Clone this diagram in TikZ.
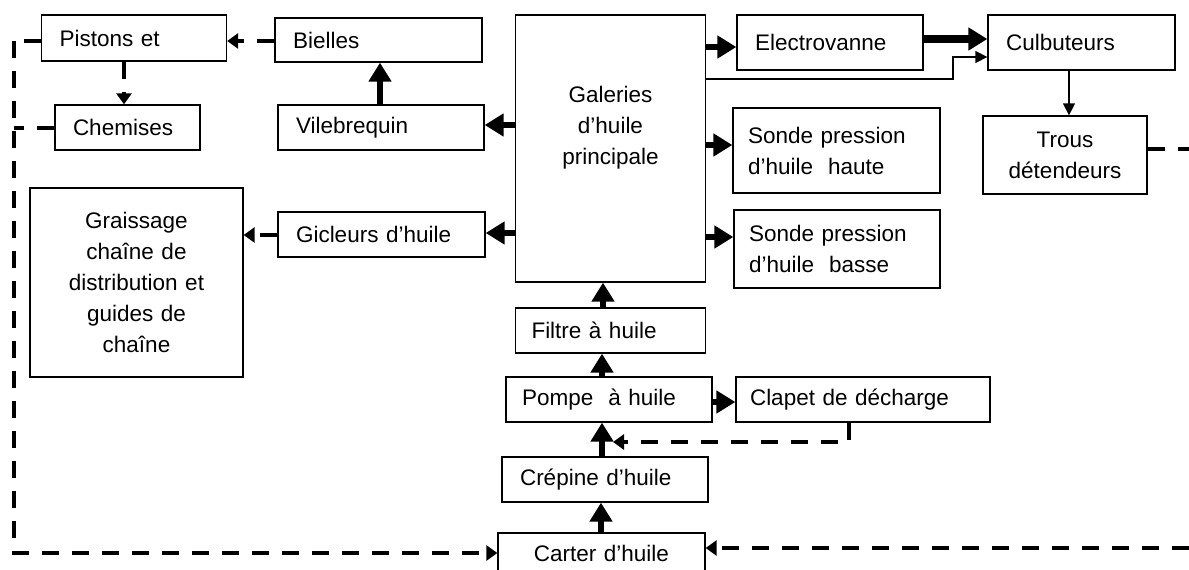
\documentclass[tikz,border=0pt]{standalone}
\usepackage{fontspec}
\setmainfont{Liberation Sans}
\usetikzlibrary{arrows.meta}
\begin{document}
\begin{tikzpicture}[x=1pt,y=-1pt,
  box/.style={draw, line width=1.3pt, inner xsep=18pt, inner ysep=0pt, align=left,
    font=\fontsize{22.5}{31}\selectfont},
  cbox/.style={box, align=center},
  thickarr/.style={line width=6.5pt, -{Triangle[length=19pt,width=22pt]}},
  thinarr/.style={line width=1.3pt, -{Triangle[length=12pt,width=12pt]}},
  dasharr/.style={line width=4.5pt, dash pattern=on 17pt off 13pt, -{Triangle[length=11pt,width=15pt]}},
  dashline/.style={line width=4.5pt, dash pattern=on 17pt off 13pt}]
\useasboundingbox (0,0) rectangle (1189,570);
\fill[white] (0,0) rectangle (1189,570);

\node[box, text width=149pt, minimum height=46pt] (pist) at (134,38) {Pistons et};
\node[box, text width=171pt, minimum height=44pt] (biel) at (378.5,40) {Bielles};
\node[box, text width=109pt, minimum height=45pt] (chem) at (127.5,127.5) {Chemises};
\node[box, text width=170pt, minimum height=45pt] (vile) at (381,127.5) {Vilebrequin};
\node[box, text width=154pt, minimum height=267pt] (gal) at (610.5,148.5) {};
\node[align=center, font=\fontsize{22.5}{31}\selectfont] (galt) at (610.5,128) {Galeries\\d’huile\\principale};
\node[box, text width=150pt, minimum height=55pt] (elec) at (830,42.5) {Electrovanne};
\node[box, text width=151pt, minimum height=55pt] (culb) at (1081.5,42.5) {Culbuteurs};
\node[box, inner xsep=15pt, text width=177pt, minimum height=85pt] (sh) at (836.5,150.5) {Sonde pression\\d’huile\ \ haute};
\node[cbox, text width=128pt, minimum height=78pt] (trous) at (1065,155) {Trous\\détendeurs};
\node[box, inner xsep=15pt, text width=176pt, minimum height=78pt] (sb) at (837,249) {Sonde pression\\d’huile\ \ basse};
\node[cbox, text width=177pt, minimum height=189pt] (grais) at (136.5,282.5) {Graissage\\chaîne de\\distribution et\\guides de\\chaîne\\[8pt]};
\node[box, text width=171pt, minimum height=45pt] (gicl) at (381.5,234.5) {Gicleurs d’huile};
\node[box, inner xsep=16pt, text width=158pt, minimum height=45pt] (filt) at (610.5,330.5) {Filtre à huile};
\node[box, inner xsep=16pt, text width=174pt, minimum height=45pt] (pomp) at (609,399.5) {Pompe\ \ à huile};
\node[box, inner xsep=14pt, text width=226pt, minimum height=45pt] (clap) at (863,399.5) {Clapet de décharge};
\node[box, text width=170pt, minimum height=45pt] (crep) at (605,479.5) {Crépine d’huile};
\node[cbox, text width=171pt, minimum height=40pt] (cart) at (601.5,553) {Carter d’huile};

% thick arrows
\draw[thickarr] (gal.east |- 0,47) -- (elec.west |- 0,47);
\draw[thickarr, line width=8pt] (elec.east |- 0,39) -- (culb.west |- 0,39);
\draw[thickarr] (gal.east |- 0,145) -- (sh.west |- 0,145);
\draw[thickarr] (gal.east |- 0,237) -- (sb.west |- 0,237);
\draw[thickarr] (gal.west |- 0,125) -- (vile.east |- 0,125);
\draw[thickarr] (gal.west |- 0,233) -- (gicl.east |- 0,233);
\draw[thickarr] (vile.north -| 380,0) -- (biel.south -| 380,0);
\draw[thickarr] (filt.north -| 603,0) -- (gal.south -| 603,0);
\draw[thickarr] (pomp.north -| 602,0) -- (filt.south -| 602,0);
\draw[thickarr] (crep.north -| 602,0) -- (pomp.south -| 602,0);
\draw[thickarr] (cart.north -| 601,0) -- (crep.south -| 601,0);
\draw[thickarr] (pomp.east |- 0,402) -- (clap.west |- 0,402);

% thin arrows
\coordinate (g1) at (953,79);
\coordinate (g2) at (953,57);
\draw[thinarr] (gal.east |- g1) -- (g1) -- (g2) -- (culb.west |- g2);
\draw[thinarr] (culb.south -| 1069,0) -- (trous.north -| 1069,0);

% dashed arrows
\draw[dasharr] (biel.west |- 0,41) -- (pist.east |- 0,41);
\draw[dasharr] (pist.south -| 124,0) -- (chem.north -| 124,0);
\draw[dasharr] (gicl.west |- 0,235) -- (grais.east |- 0,235);
\coordinate (cl) at (849,442);
\coordinate (pin) at (613,442);
\draw[dasharr] (clap.south -| cl) -- (cl) -- (pin);

% return lines
\coordinate (L1) at (14,41);
\coordinate (L2) at (14,553);
\draw[dashline] (pist.west |- L1) -- (L1);
\draw[dasharr] (L1) -- (L2) -- (cart.west |- L2);
\coordinate (L3) at (14,128);
\draw[dashline] (chem.west |- L3) -- (L3);
\coordinate (R1) at (1189,149);
\draw[dashline] (trous.east |- R1) -- (R1);
\coordinate (R2) at (1189,548);
\draw[dasharr] (R2) -- (cart.east |- R2);
\end{tikzpicture}
\end{document}
